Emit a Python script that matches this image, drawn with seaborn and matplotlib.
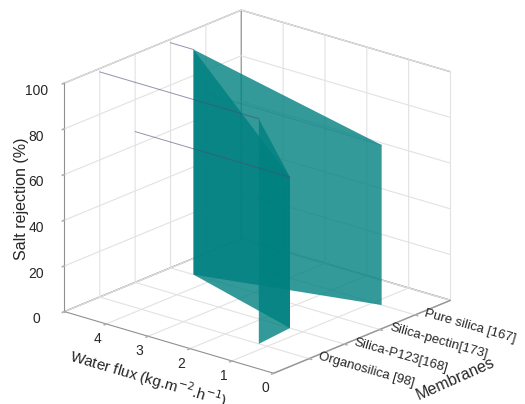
import numpy as np
import pandas as pd
import seaborn as sns
import matplotlib
matplotlib.use("Agg")
import matplotlib.pyplot as plt
from mpl_toolkits.mplot3d.art3d import Poly3DCollection

# ---- data ----
membranes = ["Organosilica [98]", "Silica-P123[168]", "Silica-pectin[173]", "Pure silica [167]"]
water_flux = [1.2, 1.3, 4.45, 0.8]
salt_rejection = [98.5, 66.0, 98.5, 70.0]
flux_ticks = [0, 1, 2, 3, 4]
rejection_ticks = [0, 20, 40, 60, 80, 100]

sns.set_theme(style="white")
plt.rcParams["font.family"] = ["Liberation Sans", "DejaVu Sans"]

df = pd.DataFrame({"membrane": membranes, "flux": water_flux, "rejection": salt_rejection})
df["pos"] = np.arange(1, len(df) + 1)

teal = "#008080"

fig = plt.figure(figsize=(5.25, 4.04), dpi=100)
ax = fig.add_axes([-0.02, 0.012, 1, 1], projection="3d", proj_type="ortho")
ax.computed_zorder = False
ax.view_init(elev=20.4, azim=-139.8)
ax.set_box_aspect((1, 1, 0.89), zoom=1.1)

verts = []
for i in range(len(df) - 1):
    a, b = df.iloc[i], df.iloc[i + 1]
    verts.append([(a.pos, a.flux, 0), (b.pos, b.flux, 0),
                  (b.pos, b.flux, b.rejection), (a.pos, a.flux, a.rejection)])
poly = Poly3DCollection(verts, facecolor=teal, alpha=0.8, edgecolor="none", zorder=2)
ax.add_collection3d(poly)

for _, r in df.iterrows():
    behind = r.pos == df["pos"].max()
    ax.plot([r.pos, r.pos], [r.flux, 5], [r.rejection, r.rejection],
            color="#4a4a7a", lw=0.7, alpha=0.3 if behind else 0.6,
            zorder=1 if behind else 3)

ax.set_xlim(0, 5)
ax.set_ylim(0, 5)
ax.set_zlim(0, 100)
ax.set_xticks(df["pos"])
ax.set_xticklabels(df["membrane"], rotation=-16, ha="left", va="center", fontsize=9.5)
ax.set_yticks(flux_ticks)
ax.set_yticklabels([str(t) for t in flux_ticks], fontsize=10, ha="right")
ax.set_zticks(rejection_ticks)
ax.set_zticklabels([str(t) for t in rejection_ticks], fontsize=10)

ax.set_xlabel("")
fig.text(455 / 525, 1 - 379 / 404, "Membranes", fontsize=11.5, rotation=24,
         ha="center", va="center", color=".15")
ax.set_ylabel("Water flux (kg.m$^{-2}$.h$^{-1}$)", fontsize=11, labelpad=-3)
ax.set_zlabel("Salt rejection (%)", fontsize=11.5, labelpad=-4)
ax.tick_params(axis="both", color="#b0b0b0")
ax.tick_params(axis="x", pad=-2)
ax.tick_params(axis="y", pad=-4)
ax.tick_params(axis="z", pad=3)

for axis in (ax.xaxis, ax.yaxis, ax.zaxis):
    axis.set_pane_color((1, 1, 1, 1))
    axis.pane.set_edgecolor("#a0a0a0")
    axis._axinfo["grid"]["color"] = "#e2e2e2"
    axis._axinfo["grid"]["linewidth"] = 0.8
    axis._axinfo["tick"]["outward_factor"] = 0.0
    axis._axinfo["tick"]["inward_factor"] = 0.15
    axis.line.set_color("#909090")
    axis.line.set_linewidth(0.8)

fig.savefig("out.png", dpi=100)
